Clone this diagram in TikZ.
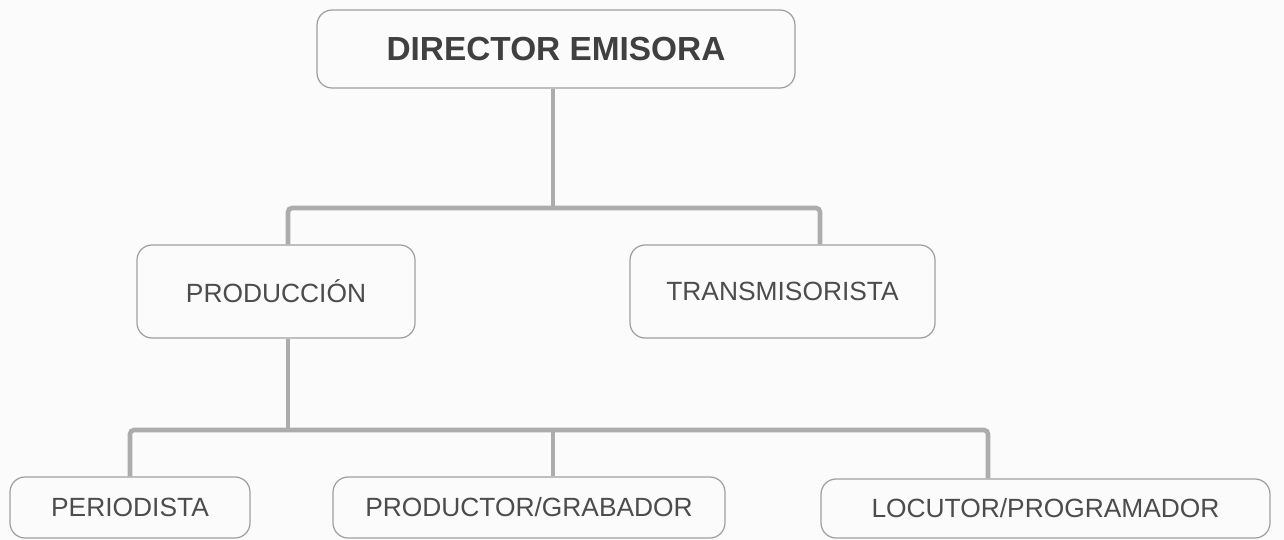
\documentclass[tikz,border=0pt]{standalone}
\usepackage{fontspec}
\setmainfont{Liberation Sans}
\usetikzlibrary{positioning}

\begin{document}
\begin{tikzpicture}[x=0.02cm,y=-0.02cm,
  caja/.style={draw=gray!75,line width=0.7pt,rounded corners=0.3cm,text=black!70,
    font=\fontsize{15}{18}\selectfont,inner sep=0pt,minimum height=1.86cm},
  linea/.style={draw=gray!65,line width=2.6pt,rounded corners=0.08cm}
  ]

  \fill[gray!3] (0,0) rectangle (1284,540);
  \useasboundingbox (0,0) rectangle (1284,540);

  \node[caja,minimum width=9.56cm,minimum height=1.56cm,text=black!75,
    font=\fontsize{19}{22}\selectfont\bfseries] (dir) at (556,49) {DIRECTOR EMISORA};
  \node[caja,minimum width=5.56cm] (prod) at (276,291.5) {PRODUCCIÓN};
  \node[caja,minimum width=6.1cm] (trans) at (782.5,291.5) {TRANSMISORISTA};
  \node[caja,minimum width=4.8cm,minimum height=1.22cm] (peri) at (130,507.5) {PERIODISTA};
  \node[caja,minimum width=7.84cm,minimum height=1.22cm] (grab) at (529,507.5) {PRODUCTOR/GRABADOR};
  \node[caja,minimum width=8.98cm,minimum height=1.18cm] (locu) at (1045.5,508.5) {LOCUTOR/PROGRAMADOR};

  \coordinate (j1) at (553,208);
  \coordinate (j2) at (288,430);

  \draw[linea] (dir.south -| j1) -- (j1);
  \draw[linea] (prod.north -| j2) |- (j1) -| ([xshift=0.75cm]trans.north);
  \draw[linea] (prod.south -| j2) -- (j2);
  \draw[linea] (peri.north) |- (j2) -| ([xshift=-1.15cm]locu.north);
  \draw[linea] (grab.north -| j1) -- (j1 |- j2);

\end{tikzpicture}
\end{document}
